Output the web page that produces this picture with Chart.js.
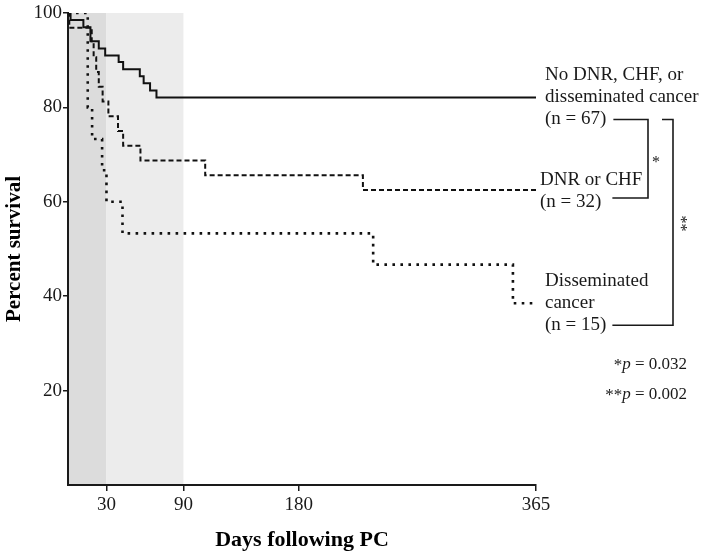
<!DOCTYPE html>
<html><head><meta charset="utf-8">
<script src="https://cdn.jsdelivr.net/npm/chart.js@4"></script>
<style>html,body{margin:0;padding:0;background:#fff}</style>
</head><body>
<canvas id="c" width="704" height="558" style="width:704px;height:558px;display:block"></canvas>
<script>
// ---- data ----
const xTickValues = [30, 90, 180, 365];
const yTickValues = [20, 40, 60, 80, 100];
const shadedBands = [[0, 30], [30, 90]];

const noDnrDays = [0, 2, 12, 17.5, 24, 29, 39.5, 43, 56, 59, 64, 69, 365];
const noDnrSurv = [100, 98.5, 97.0, 94.0, 92.5, 91.0, 89.6, 88.1, 86.6, 85.1, 83.6, 82.1, 82.1];

const dnrChfDays = [0, 1, 18.5, 20, 22, 24, 27, 31.5, 39, 43, 56.5, 107, 230, 365];
const dnrChfSurv = [100, 96.9, 93.75, 90.6, 87.5, 84.4, 81.25, 78.1, 75.0, 71.9, 68.75, 65.6, 62.5, 62.5];

const cancerDays = [0, 15.4, 18.8, 26.6, 30, 42.5, 238, 347, 365];
const cancerSurv = [100, 80.0, 73.3, 66.7, 60.0, 53.3, 46.7, 38.5, 38.5];

const groupLabels = [
  ["No DNR, CHF, or", "disseminated cancer", "(n = 67)"],
  ["DNR or CHF", "(n = 32)"],
  ["Disseminated", "cancer", "(n = 15)"]
];
const pValueLabels = [["*", "p", " = 0.032"], ["**", "p", " = 0.002"]];

// ---- helpers ----
const toPts = (d, s) => d.map((v, i) => ({x: v, y: s[i]}));
const SERIF = "'Liberation Serif', 'Times New Roman', serif";
const INK = '#1a1a1a';

const deco = {
  id: 'deco',
  beforeDraw(chart) {
    const {ctx, chartArea: a, scales: {x}} = chart;
    const cols = ['#dcdcdc', '#ececec'];
    ctx.save();
    shadedBands.forEach((b, i) => {
      const x0 = x.getPixelForValue(b[0]), x1 = x.getPixelForValue(b[1]);
      ctx.fillStyle = cols[i];
      ctx.fillRect(x0, a.top, x1 - x0, a.bottom - a.top);
    });
    ctx.restore();
  },
  afterDatasetsDraw(chart) {
    const {ctx, chartArea: a, scales: {y}} = chart;
    const lh = 22;
    const ends = [noDnrSurv, dnrChfSurv, cancerSurv].map(s => y.getPixelForValue(s[s.length - 1]));
    const firstOff = [-lh, -10, -lh];
    const xOff = [9, 4, 9];
    ctx.save();
    ctx.fillStyle = INK;
    ctx.strokeStyle = INK;
    ctx.font = '19px ' + SERIF;
    ctx.textBaseline = 'middle';
    ctx.textAlign = 'left';
    const rows = [];
    groupLabels.forEach((lines, g) => {
      const y0 = ends[g] + firstOff[g];
      lines.forEach((t, i) => ctx.fillText(t, a.right + xOff[g], y0 + i * lh));
      const lastY = y0 + (lines.length - 1) * lh;
      const lastW = ctx.measureText(lines[lines.length - 1]).width;
      rows.push({y: lastY, xEnd: a.right + xOff[g] + lastW});
    });
    // brackets
    ctx.lineWidth = 1.6;
    const b1x = a.right + 112;
    ctx.beginPath();
    ctx.moveTo(rows[0].xEnd + 7, rows[0].y);
    ctx.lineTo(b1x, rows[0].y);
    ctx.lineTo(b1x, rows[1].y - 4);
    ctx.lineTo(rows[1].xEnd + 11, rows[1].y - 4);
    ctx.stroke();
    const b2x = a.right + 137;
    ctx.beginPath();
    ctx.moveTo(b1x + 14, rows[0].y);
    ctx.lineTo(b2x, rows[0].y);
    ctx.lineTo(b2x, rows[2].y);
    ctx.lineTo(rows[2].xEnd + 6, rows[2].y);
    ctx.stroke();
    ctx.font = '16px ' + SERIF;
    ctx.fillText('*', b1x + 4, (rows[0].y + rows[1].y) / 2 + 2);
    ctx.save();
    ctx.translate(b2x + 7, (rows[0].y + rows[2].y) / 2 + 1);
    ctx.rotate(Math.PI / 2);
    ctx.textAlign = 'center';
    ctx.fillText('**', 0, 0);
    ctx.restore();
    // p-values (right aligned)
    const pr = a.right + 151;
    pValueLabels.forEach((parts, i) => {
      const yy = rows[2].y + 39 + i * 30;
      let xx = pr;
      for (let k = parts.length - 1; k >= 0; k--) {
        ctx.font = (k === 1 ? 'italic ' : '') + '17px ' + SERIF;
        const w = ctx.measureText(parts[k]).width;
        xx -= w;
        ctx.fillText(parts[k], xx, yy + (k === 0 ? 1 : 0));
      }
    });
    ctx.restore();
  }
};

const common = {borderColor: '#111', pointRadius: 0, stepped: true, fill: false, tension: 0};

new Chart(document.getElementById('c'), {
  type: 'line',
  data: {
    datasets: [
      Object.assign({label: 'No DNR, CHF, or disseminated cancer', data: toPts(noDnrDays, noDnrSurv), borderWidth: 2, borderDash: []}, common),
      Object.assign({label: 'DNR or CHF', data: toPts(dnrChfDays, dnrChfSurv), borderWidth: 2, borderDash: [5, 3]}, common),
      Object.assign({label: 'Disseminated cancer', data: toPts(cancerDays, cancerSurv), borderWidth: 2.6, borderDash: [2.6, 5.4]}, common)
    ]
  },
  options: {
    responsive: false,
    animation: false,
    layout: {padding: {left: 0, top: 13, right: 168, bottom: 0}},
    plugins: {legend: {display: false}, tooltip: {enabled: false}},
    scales: {
      x: {
        type: 'linear', min: 0, max: 365,
        afterBuildTicks: s => { s.ticks = xTickValues.map(v => ({value: v})); },
        afterFit: s => { s.height = 73; },
        grid: {display: true, drawOnChartArea: false, drawTicks: true, tickLength: 6, color: INK, lineWidth: 1.5},
        border: {display: true, color: INK, width: 2},
        ticks: {color: INK, font: {family: SERIF, size: 19}, padding: 3, maxRotation: 0, autoSkip: false},
        title: {display: true, text: 'Days following PC', color: '#000', font: {family: SERIF, size: 22, weight: 'bold'}, padding: {top: 0, bottom: 4}}
      },
      y: {
        type: 'linear', min: 0, max: 100,
        afterBuildTicks: s => { s.ticks = yTickValues.map(v => ({value: v})); },
        afterFit: s => { s.width = 68; },
        grid: {display: true, drawOnChartArea: false, drawTicks: true, tickLength: 5, color: INK, lineWidth: 1.5},
        border: {display: true, color: INK, width: 2},
        ticks: {color: INK, font: {family: SERIF, size: 19}, padding: 1},
        title: {display: true, text: 'Percent survival', color: '#000', font: {family: SERIF, size: 21, weight: 'bold'}, padding: {top: 2, bottom: 0}}
      }
    }
  },
  plugins: [deco]
});
</script>
</body></html>
